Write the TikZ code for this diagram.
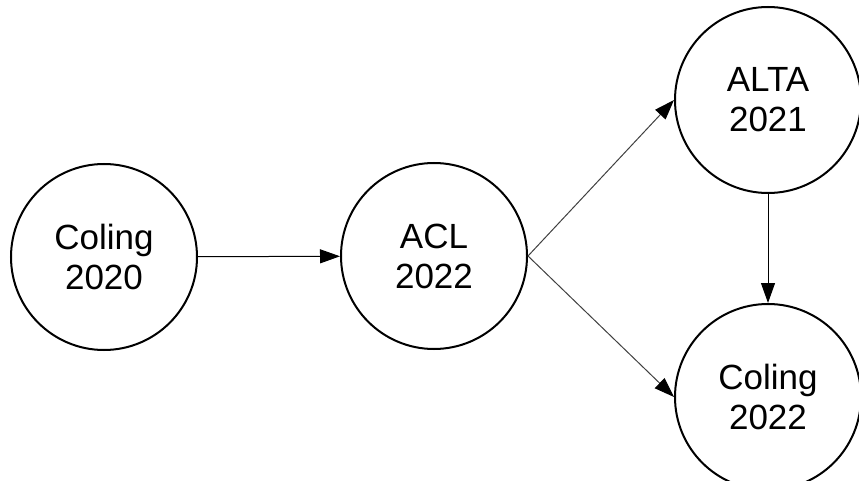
\documentclass[tikz,border=0pt]{standalone}
\usepackage{fontspec}
\setmainfont{Liberation Sans}
\usetikzlibrary{arrows.meta}
\tikzset{
  venue/.style={circle, draw, line width=2pt, minimum size=186pt, inner sep=0pt,
    align=center, font=\fontsize{35}{40}\selectfont},
  link/.style={line width=1pt, -{Triangle[length=20pt, width=14pt, color=black]}}
}
\begin{document}
\begin{tikzpicture}[x=1pt, y=-1pt]
                \useasboundingbox (0,0) rectangle (859,481);
                \node[venue] (coling20) at (104,257) {Coling\\2020};
                \node[venue] (acl) at (434,256) {ACL\\2022};
                \node[venue] (alta) at (768,100) {ALTA\\2021};
                \node[venue] (coling22) at (768,397) {Coling\\2022};
                \draw[link] (coling20) -- (acl);
                \draw[link, black!75] (acl.east) -- (alta.west);
                \draw[link, black!75] (acl.east) -- (coling22.west);
                \draw[link] (alta) -- (coling22);
            \end{tikzpicture}
\end{document}
